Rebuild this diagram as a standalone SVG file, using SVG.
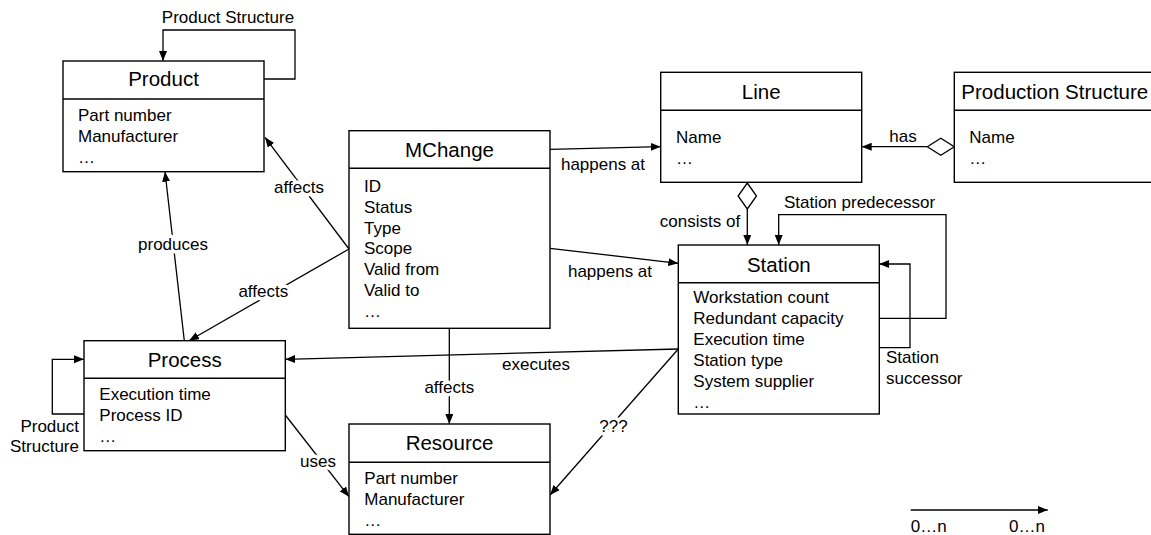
<svg xmlns="http://www.w3.org/2000/svg" width="1151" height="535" viewBox="0 0 1151 535">
  <style>
    text { font-family: "Liberation Sans", Arial, sans-serif; fill: #000; }
    .title { font-size: 20.5px; text-anchor: middle; }
    .attr { font-size: 17px; }
    .lbl { font-size: 17px; }
    .halo { paint-order: stroke; stroke: #fff; stroke-width: 7px; stroke-linejoin: round; }
    .box { fill: #fff; stroke: #000; stroke-width: 1.4; }
    .div { stroke: #000; stroke-width: 1.4; }
    .edge { fill: none; stroke: #000; stroke-width: 1.3; marker-end: url(#arrow); }
    .plain { fill: none; stroke: #000; stroke-width: 1.3; }
    .agg { fill: #fff; stroke: #000; stroke-width: 1.3; }
  </style>
  <defs>
    <marker id="arrow" markerUnits="userSpaceOnUse" markerWidth="11" markerHeight="9" refX="10" refY="4" orient="auto">
      <path d="M0,0 L10,4 L0,8 z" fill="#000"/>
    </marker>
  </defs>

  <rect width="1151" height="535" fill="#fff"/>

  <!-- connectors -->
  <g id="connectors">
    <!-- Product self-association -->
    <polyline class="edge" points="264,79 295,79 295,30 163,30 163,61"/>
    <!-- MChange happens at Line -->
    <line class="edge" x1="550" y1="149.3" x2="660.7" y2="146.7"/>
    <!-- MChange happens at Station -->
    <line class="edge" x1="550" y1="248.3" x2="678.3" y2="263.3"/>
    <!-- Production Structure has Line -->
    <line class="edge" x1="927.3" y1="146.7" x2="861.7" y2="146.7"/>
    <polygon class="agg" points="927.3,146.7 940.8,138.2 954.3,146.7 940.8,155.2"/>
    <!-- Line consists of Station -->
    <line class="edge" x1="747.3" y1="209" x2="747.3" y2="245"/>
    <polygon class="agg" points="747.3,183 756.5,196 747.3,209 738.1,196"/>
    <!-- Station predecessor / successor -->
    <polyline class="edge" points="879.3,318.3 946,318.3 946,214.7 778.7,214.7 778.7,245"/>
    <polyline class="edge" points="879.3,347.7 910,347.7 910,264 879.3,264"/>
    <!-- MChange affects Product / Process -->
    <line class="edge" x1="349" y1="249" x2="265" y2="137.3"/>
    <line class="edge" x1="349" y1="249" x2="189" y2="340.7"/>
    <!-- Process produces Product -->
    <line class="edge" x1="184.3" y1="340.7" x2="165" y2="171.7"/>
    <!-- Process self-association -->
    <polyline class="edge" points="84,414 52.3,414 52.3,359.3 84,359.3"/>
    <!-- Station executes Process -->
    <line class="edge" x1="678.3" y1="349" x2="285.3" y2="359.3"/>
    <!-- MChange affects Resource -->
    <line class="edge" x1="449.3" y1="328.3" x2="449.3" y2="424"/>
    <!-- Station ??? Resource -->
    <line class="edge" x1="678.3" y1="349" x2="550" y2="495"/>
    <!-- Process uses Resource -->
    <line class="edge" x1="285.3" y1="415" x2="349" y2="496.7"/>

    <!-- connector labels -->
    <text class="lbl" x="228" y="23" text-anchor="middle">Product Structure</text>
    <text class="lbl" x="603" y="170" text-anchor="middle">happens at</text>
    <text class="lbl" x="610" y="276.7" text-anchor="middle">happens at</text>
    <text class="lbl" x="903" y="141.7" text-anchor="middle">has</text>
    <text class="lbl" x="700" y="226.7" text-anchor="middle">consists of</text>
    <text class="lbl" x="859.5" y="208.3" text-anchor="middle">Station predecessor</text>
    <text class="lbl" x="886" y="363.3">Station</text>
    <text class="lbl" x="886" y="384.3">successor</text>
    <text class="lbl halo" x="299" y="193.3" text-anchor="middle">affects</text>
    <text class="lbl halo" x="263.3" y="296.7" text-anchor="middle">affects</text>
    <text class="lbl halo" x="173" y="250" text-anchor="middle">produces</text>
    <text class="lbl" x="79" y="431.7" text-anchor="end">Product</text>
    <text class="lbl" x="79" y="452.3" text-anchor="end">Structure</text>
    <text class="lbl" x="536" y="370" text-anchor="middle">executes</text>
    <text class="lbl halo" x="449.3" y="393.3" text-anchor="middle">affects</text>
    <text class="lbl halo" x="613.5" y="431.7" text-anchor="middle">???</text>
    <text class="lbl halo" x="318" y="466.7" text-anchor="middle">uses</text>
  </g>

  <!-- Product -->
  <g id="product">
    <rect class="box" x="63" y="61" width="201" height="110.7"/>
    <line class="div" x1="63" y1="99" x2="264" y2="99"/>
    <text class="title" x="163.5" y="86">Product</text>
    <text class="attr" x="78" y="120.7">Part number</text>
    <text class="attr" x="78" y="141.7">Manufacturer</text>
    <text class="attr" x="78" y="162.5">…</text>
  </g>

  <!-- MChange -->
  <g id="mchange">
    <rect class="box" x="349" y="130.7" width="201" height="197.6"/>
    <line class="div" x1="349" y1="168.3" x2="550" y2="168.3"/>
    <text class="title" x="449.5" y="156.7">MChange</text>
    <text class="attr" x="364" y="191.7">ID</text>
    <text class="attr" x="364" y="212.7">Status</text>
    <text class="attr" x="364" y="233.5">Type</text>
    <text class="attr" x="364" y="254.4">Scope</text>
    <text class="attr" x="364" y="275.3">Valid from</text>
    <text class="attr" x="364" y="296.4">Valid to</text>
    <text class="attr" x="364" y="317.3">…</text>
  </g>

  <!-- Line -->
  <g id="line">
    <rect class="box" x="660.7" y="72.3" width="201" height="110"/>
    <line class="div" x1="660.7" y1="110.3" x2="861.7" y2="110.3"/>
    <text class="title" x="761.2" y="98.5">Line</text>
    <text class="attr" x="676" y="143.3">Name</text>
    <text class="attr" x="676" y="164">…</text>
  </g>

  <!-- Production Structure -->
  <g id="production-structure">
    <rect class="box" x="954.3" y="72.3" width="201" height="110"/>
    <line class="div" x1="954.3" y1="110.3" x2="1155.3" y2="110.3"/>
    <text class="title" x="1054.8" y="98.5">Production Structure</text>
    <text class="attr" x="969.3" y="143.3">Name</text>
    <text class="attr" x="969.3" y="164">…</text>
  </g>

  <!-- Station -->
  <g id="station">
    <rect class="box" x="678.3" y="245" width="201" height="169"/>
    <line class="div" x1="678.3" y1="282.7" x2="879.3" y2="282.7"/>
    <text class="title" x="778.8" y="271.7">Station</text>
    <text class="attr" x="693.3" y="302.7">Workstation count</text>
    <text class="attr" x="693.3" y="323.7">Redundant capacity</text>
    <text class="attr" x="693.3" y="344.7">Execution time</text>
    <text class="attr" x="693.3" y="365.7">Station type</text>
    <text class="attr" x="693.3" y="386.7">System supplier</text>
    <text class="attr" x="693.3" y="407.5">…</text>
  </g>

  <!-- Process -->
  <g id="process">
    <rect class="box" x="84" y="340.7" width="201.3" height="110"/>
    <line class="div" x1="84" y1="378.3" x2="285.3" y2="378.3"/>
    <text class="title" x="184.7" y="366.7">Process</text>
    <text class="attr" x="99.3" y="400">Execution time</text>
    <text class="attr" x="99.3" y="420.7">Process ID</text>
    <text class="attr" x="99.3" y="441.5">…</text>
  </g>

  <!-- Resource -->
  <g id="resource">
    <rect class="box" x="349" y="424" width="201" height="110.3"/>
    <line class="div" x1="349" y1="462.3" x2="550" y2="462.3"/>
    <text class="title" x="449.5" y="450">Resource</text>
    <text class="attr" x="364.3" y="484">Part number</text>
    <text class="attr" x="364.3" y="505">Manufacturer</text>
    <text class="attr" x="364.3" y="526">…</text>
  </g>

  <!-- Multiplicity legend -->
  <g id="legend">
    <line class="edge" x1="910.7" y1="510" x2="1047.7" y2="510"/>
    <text class="lbl" x="910.7" y="532">0…n</text>
    <text class="lbl" x="1045" y="532" text-anchor="end">0…n</text>
  </g>
</svg>
